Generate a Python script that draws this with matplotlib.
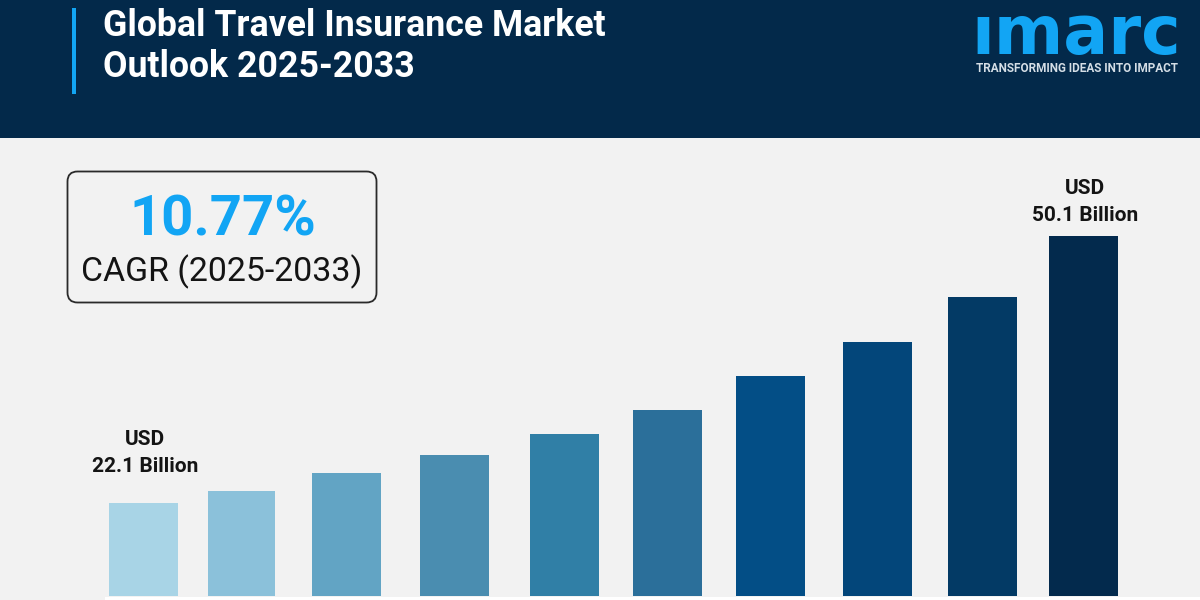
import matplotlib
matplotlib.use("Agg")
import matplotlib.pyplot as plt
from matplotlib.patches import FancyBboxPatch, Rectangle

years = [2024, 2025, 2026, 2027, 2028, 2029, 2030, 2031, 2032, 2033]
values = [22.1, 23.36, 25.25, 27.13, 29.34, 31.85, 35.42, 38.98, 43.7, 50.1]
title_lines = ["Global Travel Insurance Market", "Outlook 2025-2033"]
cagr_value = "10.77%"
cagr_label = "CAGR (2025-2033)"
first_label = "USD\n22.1 Billion"
last_label = "USD\n50.1 Billion"

# layout (pixels of the 1200x600 canvas)
bar_left = [109, 208, 312, 420, 530, 633, 736, 843, 948, 1049]
bar_right = [178, 275, 381, 489, 599, 702, 805, 912, 1017, 1118]
bar_colors = ["#A8D4E6", "#8BC1DA", "#62A4C4", "#4A8DB0", "#307FA6", "#2B6F9A",
              "#034E86", "#03467A", "#033A65", "#032A4D"]
NAVY = "#03294A"
BG = "#F2F2F2"
ACCENT = "#12A5F4"
DARK = "#141414"
plt.rcParams["font.family"] = ["Roboto", "DejaVu Sans"]

fig = plt.figure(figsize=(12, 6), dpi=100, facecolor=BG)
deco = fig.add_axes([0, 0, 1, 1])
deco.set_xlim(0, 1200)
deco.set_ylim(600, 0)
deco.axis("off")
deco.add_patch(Rectangle((0, 0), 1200, 138, fc=NAVY, ec="none"))
deco.add_patch(Rectangle((72, 8), 4, 86, fc=ACCENT, ec="none"))
deco.add_patch(Rectangle((105, 597), 1095, 3, fc="white", ec="none"))
deco.text(103, 26, title_lines[0], color="white", fontsize=25.7, fontweight="bold", va="center", ha="left")
deco.text(103, 67, title_lines[1], color="white", fontsize=25.7, fontweight="bold", va="center", ha="left")
deco.text(1076, 54, "ımarc", color=ACCENT, fontsize=48, fontweight="bold", va="baseline", ha="center", family="DejaVu Sans")
deco.text(1077, 69, "TRANSFORMING IDEAS INTO IMPACT", color="#D5DEE6", fontsize=8.5, fontweight="bold", va="center", ha="center")
deco.add_patch(FancyBboxPatch((75, 179), 294, 116, boxstyle="round,pad=7.5,rounding_size=10", fc=BG, ec="#2A2A2A", lw=1.3))
deco.text(222.5, 220, cagr_value, color=ACCENT, fontsize=40.5, fontweight="bold", va="center", ha="center")
deco.text(221.5, 272, cagr_label, color=DARK, fontsize=24.4, va="center", ha="center")

# y scale: 50.1 at pixel 236, 22.1 at pixel 503, baseline at pixel 596
ax = fig.add_axes([0, 4 / 600, 1, 596 / 600])
ax.patch.set_alpha(0)
ax.axis("off")
ax.set_xlim(0, 1200)
px_per_unit = (503 - 236) / (values[-1] - values[0])
base = values[0] - (596 - 503) / px_per_unit
ax.set_ylim(base, base + 596 / px_per_unit)
widths = [r - l for l, r in zip(bar_left, bar_right)]
ax.bar(bar_left, [v - base for v in values], width=widths, bottom=base, align="edge", color=bar_colors)

deco.text(145, 453, first_label, color=DARK, fontsize=15, fontweight="bold", ha="center", va="center", linespacing=1.47)
deco.text(1085, 202, last_label, color=DARK, fontsize=15, fontweight="bold", ha="center", va="center", linespacing=1.47)

fig.savefig("out.png", dpi=100, facecolor=BG)
